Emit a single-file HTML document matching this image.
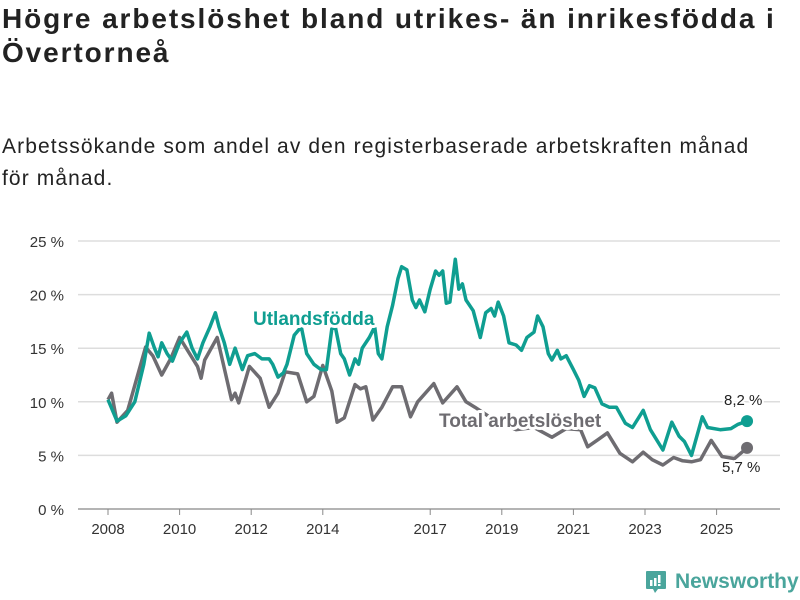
<!DOCTYPE html>
<html><head><meta charset="utf-8"><style>
body{margin:0;background:#fff;width:800px;height:600px;overflow:hidden;font-family:"Liberation Sans",sans-serif;color:#222}
h1{position:absolute;left:2px;top:2px;margin:0;font-size:28px;letter-spacing:1.9px;line-height:34px;font-weight:bold;width:798px}
p.sub{position:absolute;left:2px;top:131px;margin:0;font-size:21px;letter-spacing:1.1px;line-height:32px;width:772px}
</style></head><body>
<h1>Högre arbetslöshet bland utrikes- än inrikesfödda i Övertorneå</h1>
<p class="sub">Arbetssökande som andel av den registerbaserade arbetskraften månad för månad.</p>
<svg id="chart" width="800" height="600" style="position:absolute;left:0;top:0"></svg>
<script>
const yTicks=[0,5,10,15,20,25];
const yTickLabels=["0 %","5 %","10 %","15 %","20 %","25 %"];
const xTicks=[2008,2010,2012,2014,2017,2019,2021,2023,2025];
const foreignDates=[2008.0,2008.25,2008.5,2008.75,2009.0,2009.15,2009.3,2009.4,2009.5,2009.65,2009.8,2010.0,2010.2,2010.35,2010.5,2010.65,2010.85,2011.0,2011.1,2011.25,2011.4,2011.55,2011.75,2011.9,2012.1,2012.3,2012.5,2012.6,2012.75,2012.9,2013.0,2013.2,2013.4,2013.55,2013.75,2013.95,2014.1,2014.25,2014.35,2014.5,2014.6,2014.75,2014.9,2015.0,2015.1,2015.3,2015.45,2015.55,2015.65,2015.8,2015.95,2016.1,2016.2,2016.35,2016.5,2016.6,2016.7,2016.85,2017.0,2017.15,2017.25,2017.35,2017.45,2017.55,2017.7,2017.8,2017.9,2018.0,2018.2,2018.4,2018.55,2018.7,2018.8,2018.9,2019.05,2019.2,2019.4,2019.55,2019.7,2019.9,2020.0,2020.15,2020.3,2020.4,2020.55,2020.65,2020.8,2021.0,2021.15,2021.3,2021.45,2021.6,2021.8,2022.0,2022.2,2022.45,2022.65,2022.95,2023.15,2023.5,2023.75,2023.95,2024.1,2024.3,2024.6,2024.75,2025.1,2025.4,2025.6,2025.85];
const foreignValues=[10.2,8.2,8.7,10.0,13.5,16.4,15.0,14.2,15.5,14.5,13.8,15.5,16.5,15.0,14.0,15.5,17.0,18.3,17.0,15.5,13.5,15.0,13.0,14.3,14.5,14.0,14.0,13.5,12.3,12.7,13.5,16.2,17.0,14.5,13.5,13.0,13.0,16.8,17.0,14.5,14.0,12.5,14.0,13.5,15.0,16.0,17.0,14.5,14.0,17.0,19.0,21.5,22.6,22.3,19.5,18.8,19.5,18.4,20.5,22.2,21.8,22.2,19.2,19.3,23.3,20.5,21.0,19.5,18.5,16.0,18.3,18.7,18.0,19.3,18.0,15.5,15.3,14.8,16.0,16.5,18.0,17.0,14.5,13.9,14.8,14.0,14.3,13.0,12.0,10.5,11.5,11.3,9.8,9.5,9.5,8.0,7.6,9.2,7.4,5.5,8.1,6.8,6.3,5.0,8.6,7.6,7.4,7.5,7.9,8.2];
const totalDates=[2008.0,2008.1,2008.25,2008.55,2009.05,2009.25,2009.5,2009.75,2010.0,2010.5,2010.6,2010.7,2011.05,2011.45,2011.55,2011.65,2011.95,2012.25,2012.5,2012.75,2012.95,2013.3,2013.55,2013.75,2014.0,2014.25,2014.4,2014.6,2014.9,2015.05,2015.2,2015.4,2015.65,2015.95,2016.2,2016.45,2016.65,2017.1,2017.35,2017.75,2018.0,2018.25,2018.7,2019.0,2019.4,2019.9,2020.4,2020.8,2021.2,2021.4,2021.7,2021.95,2022.3,2022.65,2022.95,2023.2,2023.5,2023.8,2024.05,2024.3,2024.55,2024.85,2025.15,2025.5,2025.85];
const totalValues=[10.2,10.8,8.1,9.2,15.1,14.3,12.5,14.0,16.0,13.3,12.2,13.9,16.0,10.2,10.8,9.9,13.3,12.2,9.5,10.8,12.8,12.6,10.0,10.5,13.4,11.0,8.1,8.5,11.6,11.2,11.4,8.3,9.5,11.4,11.4,8.6,10.0,11.7,9.9,11.4,10.0,9.5,8.5,8.0,7.4,7.6,6.7,7.5,7.4,5.8,6.5,7.1,5.2,4.4,5.3,4.6,4.1,4.8,4.5,4.4,4.6,6.4,4.9,4.7,5.7];
const NS="http://www.w3.org/2000/svg";
const svg=document.getElementById('chart');
const L=78,R=780,Y0=509,PY=10.72;
const xs=t=>108+(t-2008)*35.8;
const ys=v=>Y0-v*PY;
function mk(tag,attrs,parent){const e=document.createElementNS(NS,tag);for(const k in attrs)e.setAttribute(k,attrs[k]);(parent||svg).appendChild(e);return e;}
yTicks.forEach((v,i)=>{
  const g=mk('line',{x1:L,x2:R,y1:ys(v),y2:ys(v),stroke:v===0?'#888':'#ddd','stroke-width':v===0?1.2:1.5});
  
  
  const t=mk('text',{x:64,y:ys(v)+6,'text-anchor':'end','font-size':15,fill:'#333'});
  t.textContent=yTickLabels[i];
  
  
});
xTicks.forEach(yr=>{
  const l=mk('line',{x1:xs(yr),x2:xs(yr),y1:Y0,y2:Y0+6,stroke:'#888'});
  
  
  const t=mk('text',{x:xs(yr),y:Y0+25,'text-anchor':'middle','font-size':15,fill:'#333'});
  t.textContent=String(yr);
  
  
});
function line(dates,vals,color,name){
  const d=dates.map((t,i)=>(i?'L':'M')+xs(t).toFixed(1)+','+ys(vals[i]).toFixed(1)).join('');
  const p=mk('path',{d:d,fill:'none',stroke:color,'stroke-width':3.5,'stroke-linejoin':'round'});
  
  
  const n=dates.length-1;
  const c=mk('circle',{cx:xs(dates[n]),cy:ys(vals[n]),r:6,fill:color});
  
  
}
line(totalDates,totalValues,'#6e6c71','total-line');
line(foreignDates,foreignValues,'#0f9e91','foreign-born-line');
function lbl(x,y,txt,color,name,size,bold){
  const t=mk('text',{x:x,y:y,'font-size':size,'font-weight':bold?'bold':'normal',fill:color,stroke:'#fff','stroke-width':bold?6:4,'paint-order':'stroke','stroke-linejoin':'round'});
  t.textContent=txt;
  
  
}
lbl(253,325,'Utlandsfödda','#0f9e91','foreign-born-label',19,true);
lbl(439,427,'Total arbetslöshet','#6e6c71','total-label',19,true);
const fv=foreignValues[foreignValues.length-1], tv=totalValues[totalValues.length-1];
lbl(724,405,fv.toFixed(1).replace('.',',')+' %','#222','foreign-end-value',15,false);
lbl(722,472,tv.toFixed(1).replace('.',',')+' %','#222','total-end-value',15,false);
</script>
<div style="position:absolute;left:645px;top:570px;display:flex;align-items:center">
<svg width="22" height="24" viewBox="0 0 22 24"><path d="M2 1h18a1 1 0 0 1 1 1v16a1 1 0 0 1-1 1H13l-3 4-2-4H2a1 1 0 0 1-1-1V2a1 1 0 0 1 1-1z" fill="#4aa59c"/><rect x="5" y="10" width="2.5" height="6" fill="#fff"/><rect x="9" y="8" width="2.5" height="8" fill="#fff"/><rect x="13" y="5" width="2.5" height="8" fill="#fff"/><rect x="13" y="14" width="2.5" height="2" fill="#fff"/></svg>
<span style="margin-left:8px;font-size:21px;color:#4aa59c;font-weight:bold">Newsworthy</span></div>
</body></html>
